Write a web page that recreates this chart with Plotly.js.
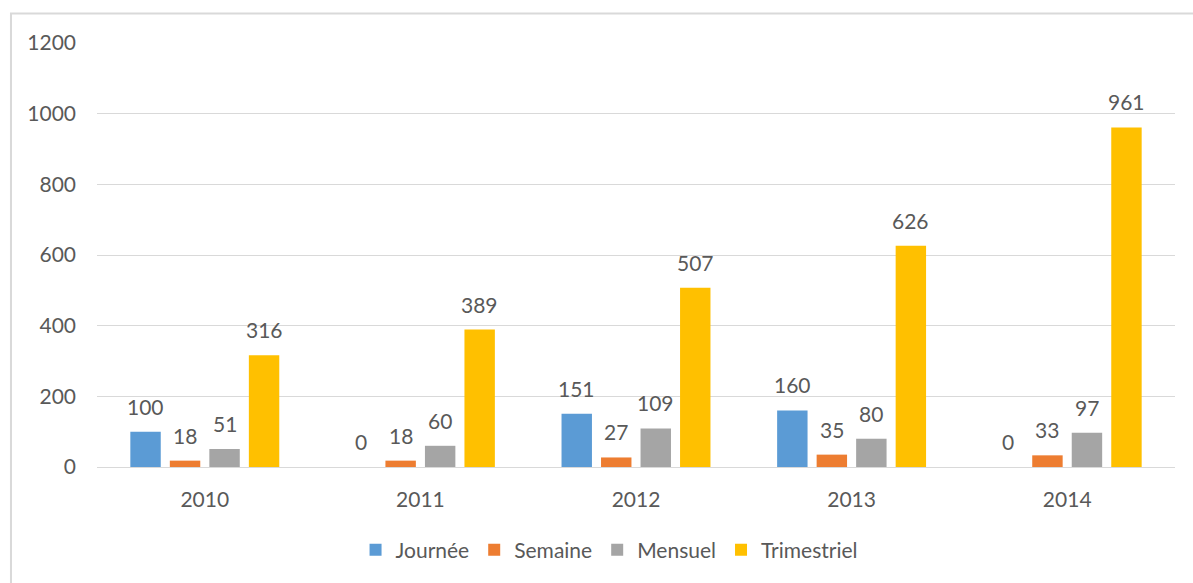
<!DOCTYPE html>
<html><head><meta charset="utf-8">
<script src="https://cdn.plot.ly/plotly-3.0.1.min.js"></script>
<style>html,body{margin:0;padding:0;background:#fff;}#chart{width:1193px;height:583px;}</style>
</head><body><div id="chart"></div>
<script>
const years = ['2010','2011','2012','2013','2014'];
const journee = [100, 0, 151, 160, 0];
const semaine = [18, 18, 27, 35, 33];
const mensuel = [51, 60, 109, 80, 97];
const trimestriel = [316, 389, 507, 626, 961];
const seriesNames = ['Journée','Semaine','Mensuel','Trimestriel'];
const seriesColors = ['#5B9BD5','#ED7D31','#A5A5A5','#FFC000'];
const seriesValues = [journee, semaine, mensuel, trimestriel];

const font = 'Lato, "Open Sans", sans-serif';
const W = 1193, H = 583, ML = 97, MR = 18, MT = 43, MB = 116;
const bargap = 0.267;
const catW = (W - ML - MR) / years.length;
const slot = catW * (1 - bargap) / seriesValues.length;

const traces = seriesValues.map((v,i)=>({
  type:'bar', x: years, y: v, name: seriesNames[i],
  marker:{color: seriesColors[i]},
  hoverinfo:'x+y'
}));
const annotations = [];
seriesValues.forEach((v,i)=>{
  const off = (i - (seriesValues.length-1)/2) * slot;
  v.forEach((val,j)=>{
    annotations.push({x: j, y: val, xref:'x', yref:'y', text: String(val),
      showarrow:false, xanchor:'center', yanchor:'bottom', xshift: off, yshift: 11,
      font:{family:font, size:21, color:'#595959'}});
  });
});
const layout = {
  width:W, height:H,
  margin:{l:ML, r:MR, t:MT, b:MB},
  paper_bgcolor:'#fff', plot_bgcolor:'#fff',
  barmode:'group', bargap:bargap, bargroupgap:0.23,
  font:{family:font, color:'#595959', size:21},
  xaxis:{type:'category', range:[-0.5, years.length-0.5], autorange:false,
    showgrid:false, showline:true, linecolor:'#d9d9d9', linewidth:1,
    ticks:'', ticklabelstandoff:14, tickfont:{size:21, color:'#595959', family:font}},
  yaxis:{range:[0,1200], autorange:false, dtick:200, showgrid:true, gridcolor:'#d9d9d9', gridwidth:1,
    zeroline:true, zerolinecolor:'#d9d9d9', showline:false, ticks:'', ticklabelstandoff:20,
    tickfont:{size:21, color:'#595959', family:font}},
  showlegend:true,
  legend:{orientation:'h', x:0.475, xanchor:'center', y:-0.196, yanchor:'middle',
    font:{size:21, color:'#595959', family:font}, itemwidth:30, traceorder:'normal'},
  annotations: annotations,
  shapes:[{type:'rect', xref:'paper', yref:'paper', x0:-0.0798, x1:1.1, y0:-0.5, y1:1.0696,
    line:{color:'#d9d9d9', width:2}, fillcolor:'rgba(0,0,0,0)', layer:'below'}]
};
Plotly.newPlot('chart', traces, layout, {displayModeBar:false, staticPlot:true});
</script></body></html>
